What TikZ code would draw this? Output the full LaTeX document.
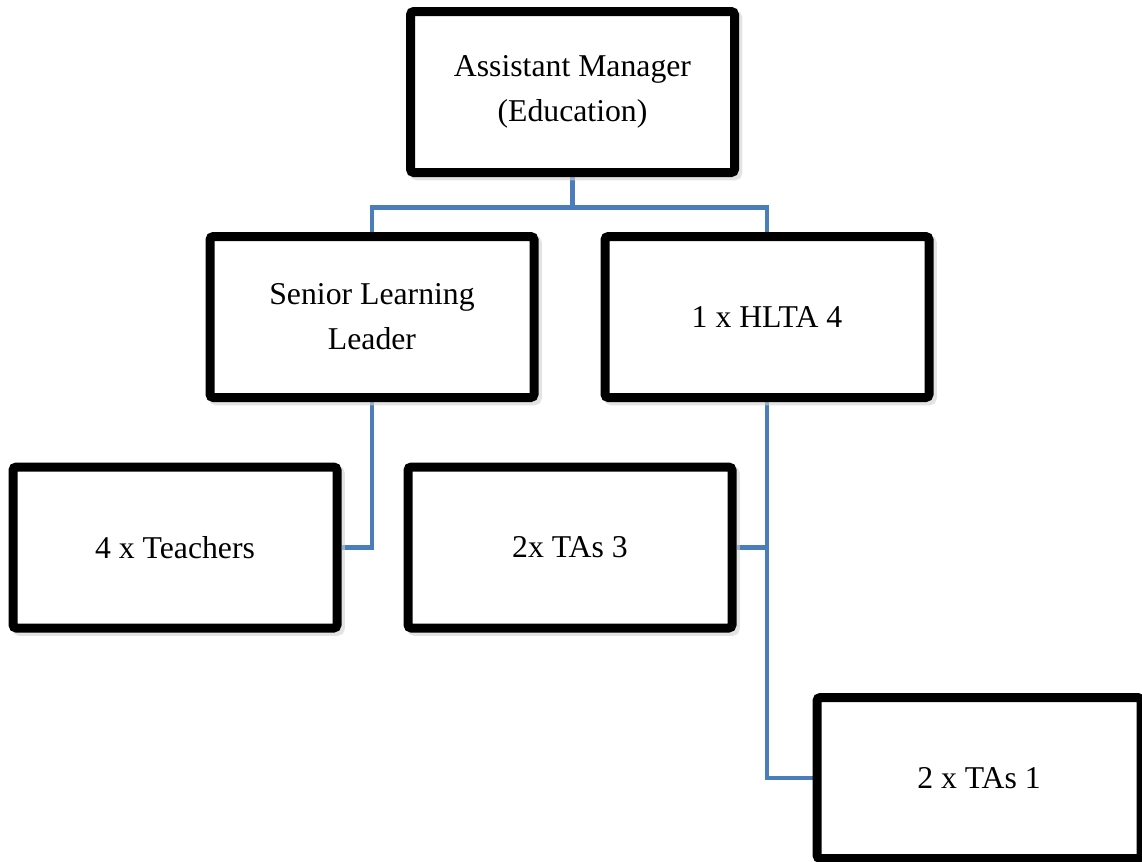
\documentclass[tikz,border=0pt]{standalone}
\usepackage{fontspec}
\setmainfont{Liberation Serif}
\usetikzlibrary{backgrounds}
\usetikzlibrary{shadows}
\definecolor{linkblue}{RGB}{74,126,187}
\tikzset{%
    orgbox/.style={draw=black, line width=6.75pt, rounded corners=2.5pt, fill=white,
        minimum width=243pt, minimum height=120.75pt, inner sep=0pt, align=center,
        font=\fontsize{23.8}{33.75}\selectfont,
        drop shadow={shadow xshift=2.5pt, shadow yshift=-2.5pt, draw=black!18, fill=black!18, line width=6.75pt, opacity=0.6}},%
    orglink/.style={draw=linkblue, line width=3.5pt},%
}

\begin{document}
\begin{tikzpicture}[x=0.75pt,y=0.75pt,yscale=-1,xscale=1]
\clip (0,0) rectangle (1142,861); %set diagram size 1142 x 861

% Box: top
\node [orgbox] (manager) at (572.5,92) {Assistant Manager\\(Education)};
% Box: second row
\node [orgbox] (senior) at (372,317) {Senior Learning\\Leader};
\node [orgbox] (hlta) at (767,317) {1 x HLTA 4};
% Box: third row
\node [orgbox] (teachers) at (175,547.5) {4 x Teachers};
\node [orgbox] (tasthree) at (570,547.5) {2x TAs 3};
% Box: bottom right
\node [orgbox] (tasone) at (979,778) {2 x TAs 1};

% Connectors
\begin{scope}[on background layer]
\draw [orglink] (manager.south) -- ++(0,30.5) coordinate (bus) -| (senior.north);
\draw [orglink] (bus) -| (hlta.north);
\draw [orglink] (senior.south) |- (teachers.east);
\draw [orglink] (hlta.south) |- (tasthree.east);
\draw [orglink] (hlta.south) |- (tasone.west);
\end{scope}

\end{tikzpicture}
\end{document}
